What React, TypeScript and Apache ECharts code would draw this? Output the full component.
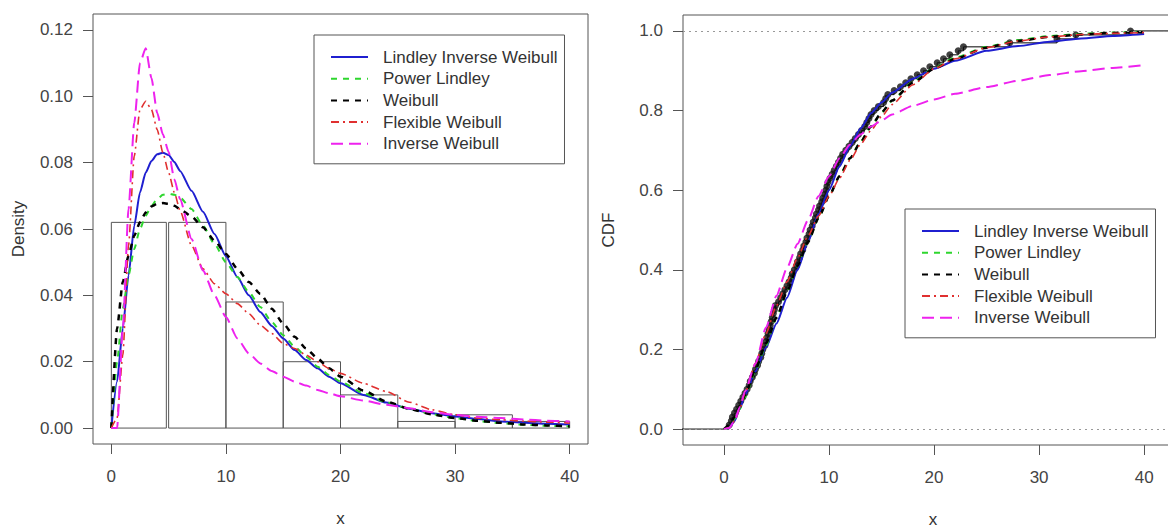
import React, { useEffect, useRef } from "react";
import * as echarts from "echarts";

const FONT = "'Liberation Sans', Arial, Helvetica, sans-serif";

const seriesNames = [
  "Lindley Inverse Weibull",
  "Power Lindley",
  "Weibull",
  "Flexible Weibull",
  "Inverse Weibull",
];

// Histogram (density scale)
const binStart = [0, 5, 10, 15, 20, 25, 30, 35];
const binEnd = [4.8, 10, 15, 20, 25, 30, 35, 40];
const binDensity = [0.062, 0.062, 0.038, 0.02, 0.01, 0.002, 0.004, 0.002];

// Fitted densities (left panel)
const densityX = [0, 0.5, 1, 1.5, 2, 2.5, 3, 3.5, 4, 4.5, 5, 5.5, 6, 7, 8, 9, 10, 11, 12, 13, 14, 15, 16, 17, 18, 19, 20, 22, 24, 26, 28, 30, 32, 34, 36, 38, 40];
const densityLIW = [0, 0.014, 0.03, 0.046, 0.061, 0.071, 0.077, 0.0805, 0.0825, 0.083, 0.0823, 0.0802, 0.0775, 0.0715, 0.0652, 0.0585, 0.0518, 0.0455, 0.04, 0.035, 0.0308, 0.027, 0.0235, 0.0205, 0.018, 0.0155, 0.0135, 0.01, 0.0077, 0.0058, 0.0045, 0.0035, 0.0027, 0.002, 0.0016, 0.0013, 0.0011];
const densityPL = [0, 0.02, 0.036, 0.046, 0.054, 0.06, 0.064, 0.067, 0.069, 0.0703, 0.0706, 0.0703, 0.0695, 0.066, 0.061, 0.0555, 0.05, 0.0455, 0.041, 0.0365, 0.032, 0.028, 0.0245, 0.0215, 0.0185, 0.016, 0.014, 0.0105, 0.0078, 0.0058, 0.0042, 0.003, 0.0021, 0.0015, 0.001, 0.0007, 0.0005];
const densityW = [0, 0.03, 0.044, 0.052, 0.058, 0.062, 0.065, 0.0668, 0.0676, 0.0678, 0.0676, 0.067, 0.066, 0.0638, 0.0605, 0.0565, 0.0525, 0.048, 0.044, 0.0405, 0.036, 0.0315, 0.0275, 0.024, 0.021, 0.018, 0.0155, 0.0113, 0.008, 0.0058, 0.0041, 0.003, 0.0022, 0.0016, 0.0011, 0.0008, 0.0005];
const densityFW = [0, 0.003, 0.022, 0.055, 0.082, 0.096, 0.0985, 0.096, 0.09, 0.083, 0.077, 0.071, 0.0655, 0.055, 0.048, 0.0435, 0.0405, 0.0375, 0.0345, 0.031, 0.0285, 0.0255, 0.024, 0.022, 0.02, 0.018, 0.0165, 0.0135, 0.011, 0.0078, 0.0055, 0.004, 0.003, 0.0025, 0.0021, 0.0018, 0.0015];
const densityIW = [0, 0, 0.03, 0.066, 0.092, 0.11, 0.1145, 0.1055, 0.095, 0.0885, 0.0832, 0.075, 0.069, 0.057, 0.0475, 0.04, 0.0335, 0.027, 0.0225, 0.0195, 0.0172, 0.0155, 0.014, 0.0128, 0.0115, 0.0105, 0.0096, 0.0083, 0.007, 0.006, 0.0048, 0.004, 0.0034, 0.003, 0.0026, 0.0022, 0.002];

// Fitted CDFs (right panel)
const cdfX = [0, 0.5, 1, 1.5, 2, 3, 4, 5, 6, 7, 8, 9, 10, 11, 12, 13, 14, 15, 16, 18, 20, 22, 25, 28, 31, 34, 37, 40];
const cdfLIW = [0, 0.003, 0.02, 0.05, 0.085, 0.145, 0.205, 0.265, 0.33, 0.4, 0.47, 0.54, 0.6, 0.66, 0.71, 0.755, 0.793, 0.82, 0.845, 0.88, 0.905, 0.925, 0.95, 0.962, 0.973, 0.981, 0.987, 0.992];
const cdfPL = [0, 0.007, 0.025, 0.05, 0.08, 0.145, 0.21, 0.28, 0.345, 0.41, 0.47, 0.53, 0.585, 0.635, 0.68, 0.722, 0.76, 0.795, 0.825, 0.872, 0.907, 0.933, 0.96, 0.977, 0.987, 0.993, 0.996, 0.998];
const cdfW = [0, 0.01, 0.03, 0.055, 0.085, 0.15, 0.215, 0.28, 0.345, 0.41, 0.47, 0.53, 0.585, 0.635, 0.68, 0.72, 0.76, 0.795, 0.825, 0.87, 0.905, 0.93, 0.958, 0.975, 0.985, 0.991, 0.995, 0.997];
const cdfFW = [0, 0.003, 0.02, 0.05, 0.09, 0.165, 0.24, 0.31, 0.37, 0.43, 0.485, 0.535, 0.585, 0.63, 0.675, 0.715, 0.75, 0.785, 0.815, 0.865, 0.905, 0.93, 0.958, 0.975, 0.985, 0.991, 0.994, 0.996];
const cdfIW = [0, 0.003, 0.02, 0.055, 0.095, 0.165, 0.255, 0.335, 0.405, 0.465, 0.525, 0.585, 0.635, 0.68, 0.715, 0.74, 0.76, 0.775, 0.79, 0.812, 0.828, 0.842, 0.859, 0.875, 0.889, 0.899, 0.907, 0.914];

// Observed sample (sorted), read from the empirical CDF
const sample = [
  0.5, 0.7, 0.8, 1.0, 1.2, 1.4, 1.6, 1.8, 2.0, 2.2, 2.4, 2.5, 2.7, 2.9, 3.0, 3.2, 3.3, 3.5, 3.6, 3.7, 3.9, 4.0, 4.1, 4.2, 4.3, 4.4, 4.5, 4.6, 4.7, 4.8, 4.9,
  5.2, 5.4, 5.6, 5.8, 6.0, 6.2, 6.4, 6.5, 6.7, 6.9, 7.0, 7.2, 7.3, 7.5, 7.6, 7.8, 7.9, 8.1, 8.2, 8.4, 8.5, 8.7, 8.8, 9.0, 9.1, 9.3, 9.4, 9.6, 9.7, 9.8, 9.9,
  10.1, 10.3, 10.5, 10.7, 10.9, 11.1, 11.3, 11.6, 11.9, 12.2, 12.5, 12.8, 13.1, 13.4, 13.6, 13.8, 14.0, 14.3, 14.7,
  15.2, 15.4, 15.6, 16.2, 16.8, 17.3, 17.8, 18.4, 19.0, 19.6,
  20.3, 20.9, 21.5, 22.3, 22.8,
  27.2,
  31.7, 33.5,
  38.7,
];

const xTicks = [0, 10, 20, 30, 40];
const densityTicks = [0, 0.02, 0.04, 0.06, 0.08, 0.1, 0.12];
const cdfTicks = [0, 0.2, 0.4, 0.6, 0.8, 1.0];

const colors = ["#1f1fd0", "#2ed62e", "#000000", "#e03030", "#ee22ee"];
const widths = [2, 2, 2.5, 1.6, 2];
const dashes: any[] = ["solid", [6, 6], [6, 6], [8, 4, 2, 4], [12, 6]];

const L_MIN = -1.6, L_MAX = 41.6;
const R_MIN = -3.9, R_MAX = 43.7;

function pairs(xs: number[], ys: number[]) {
  return xs.map((x, i) => [x, ys[i]]);
}

export default function App() {
  const ref = useRef<HTMLDivElement>(null);
  useEffect(() => {
    if (!ref.current) return;
    const chart = echarts.init(ref.current, undefined, { renderer: "svg" });

    const densities = [densityLIW, densityPL, densityW, densityFW, densityIW];
    const cdfs = [cdfLIW, cdfPL, cdfW, cdfFW, cdfIW];

    const n = sample.length;
    const ecdfPts = sample.map((x) => [x, sample.filter((v) => v <= x).length / n]);
    const ecdfStep = [[R_MIN - 1, 0], ...ecdfPts, [R_MAX + 1, 1]];

    const textBase = { fontFamily: FONT, fontSize: 17, color: "#444" };

    const mkX = (gi: number, min: number, max: number) => ({
      type: "value",
      gridIndex: gi,
      min,
      max,
      axisLine: { show: false, onZero: false },
      axisTick: { show: true, length: 10, customValues: xTicks, lineStyle: { color: "#555" } },
      axisLabel: { customValues: xTicks, margin: 24, ...textBase },
      splitLine: { show: false },
      name: "x",
      nameLocation: "middle",
      nameGap: 68,
      nameTextStyle: { ...textBase, color: "#333", lineHeight: 13 },
    });
    const mkY = (gi: number, min: number, max: number, ticks: number[], dec: number, name: string) => ({
      type: "value",
      gridIndex: gi,
      min,
      max,
      axisLine: { show: false, onZero: false },
      axisTick: { show: true, length: 10, customValues: ticks, lineStyle: { color: "#555" } },
      axisLabel: { customValues: ticks, margin: 20, formatter: (v: number) => v.toFixed(dec), ...textBase },
      splitLine: { show: false },
      name,
      nameLocation: "middle",
      nameGap: 66,
      nameTextStyle: { ...textBase, color: "#333" },
    });

    const mkLegend = (left: number, top: number) => ({
      data: seriesNames,
      orient: "vertical",
      left,
      top,
      padding: [13.5, 7, 11.5, 16],
      itemWidth: 37,
      itemHeight: 14,
      itemGap: 4.7,
      borderColor: "#555",
      borderWidth: 1,
      backgroundColor: "#fff",
      selectedMode: false,
      itemStyle: { opacity: 0, borderWidth: 0 },
      textStyle: { fontFamily: FONT, fontSize: 17, lineHeight: 17, color: "#333", padding: [0, 0, 0, 10] },
    });

    const densitySeries = seriesNames.map((name, i) => ({
      type: "line",
      name,
      xAxisIndex: 0,
      yAxisIndex: 0,
      data: pairs(densityX, densities[i]),
      symbol: "none",
      smooth: 0.2,
      smoothMonotone: "x",
      lineStyle: { color: colors[i], width: widths[i], type: dashes[i] },
      itemStyle: { color: colors[i] },
      z: 3,
    }));
    const cdfSeries = seriesNames.map((name, i) => ({
      type: "line",
      name,
      xAxisIndex: 1,
      yAxisIndex: 1,
      data: pairs(cdfX, cdfs[i]),
      symbol: "none",
      smooth: 0.2,
      smoothMonotone: "x",
      lineStyle: { color: colors[i], width: widths[i], type: dashes[i] },
      itemStyle: { color: colors[i] },
      z: 4,
    }));

    const gridBase = {
      show: true,
      borderColor: "#555",
      borderWidth: 1,
      backgroundColor: "transparent",
      containLabel: false,
      outerBoundsMode: "none",
    };

    chart.setOption({
      animation: false,
      backgroundColor: "#fff",
      grid: [
        { ...gridBase, left: 93, top: 14, width: 495, height: 430 },
        { ...gridBase, left: 683, top: 15, width: 500, height: 430 },
      ],
      xAxis: [mkX(0, L_MIN, L_MAX), mkX(1, R_MIN, R_MAX)],
      yAxis: [
        mkY(0, -0.0048, 0.1248, densityTicks, 2, "Density"),
        mkY(1, -0.04, 1.04, cdfTicks, 1, "CDF"),
      ],
      legend: [mkLegend(314, 35), mkLegend(905, 209)],
      series: [
        {
          type: "custom",
          name: "Histogram",
          xAxisIndex: 0,
          yAxisIndex: 0,
          silent: true,
          z: 1,
          data: binStart.map((s, i) => [s, binEnd[i], binDensity[i]]),
          encode: { x: [0, 1], y: 2 },
          renderItem: (params: any, api: any) => {
            const p0 = api.coord([api.value(0), 0]);
            const p1 = api.coord([api.value(1), api.value(2)]);
            return {
              type: "rect",
              shape: { x: p0[0], y: p1[1], width: p1[0] - p0[0], height: p0[1] - p1[1] },
              style: { fill: "none", stroke: "#555", lineWidth: 1 },
            };
          },
        },
        ...densitySeries,
        {
          type: "line",
          name: "ECDF",
          xAxisIndex: 1,
          yAxisIndex: 1,
          step: "end",
          data: ecdfStep,
          symbol: "none",
          lineStyle: { color: "#000", width: 1 },
          z: 2,
          markLine: {
            silent: true,
            symbol: "none",
            label: { show: false },
            lineStyle: { color: "#999", type: [2, 4], width: 1 },
            data: [{ yAxis: 0 }, { yAxis: 1 }],
          },
        },
        {
          type: "scatter",
          name: "ECDF points",
          xAxisIndex: 1,
          yAxisIndex: 1,
          data: ecdfPts,
          symbol: "circle",
          symbolSize: 7,
          itemStyle: { color: "#111" },
          z: 2,
        },
        ...cdfSeries,
      ],
    });
    return () => chart.dispose();
  }, []);

  return (
    <div style={{ position: "absolute", left: 0, top: 0, width: 1168, height: 529, overflow: "hidden", background: "#fff" }}>
      <div ref={ref} style={{ width: 1200, height: 529 }} />
    </div>
  );
}
